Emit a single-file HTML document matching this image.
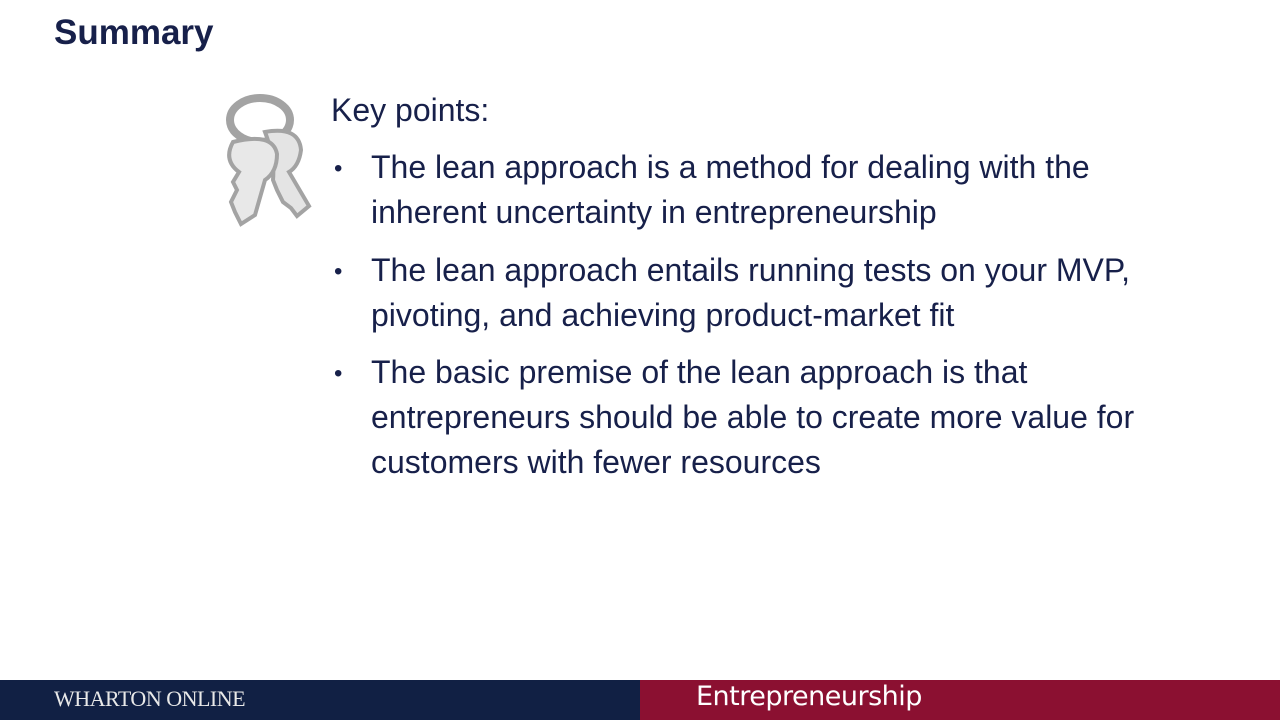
<!DOCTYPE html>
<html><head><meta charset="utf-8"><style>
body{margin:0;width:1280px;height:720px;position:relative;background:#fff;overflow:hidden;font-family:"Liberation Sans",Arial,sans-serif;color:#17204a}
.t{position:absolute;white-space:nowrap}
#title{left:54px;top:13px;font-size:35px;font-weight:bold;color:#17204a}
.b{font-size:32px;line-height:45px}
.dot{position:absolute;left:334px;font-size:24px}
#foot-l{position:absolute;left:0;top:680px;width:640px;height:40px;background:#112044}
#foot-r{position:absolute;left:640px;top:680px;width:640px;height:40px;background:#8b1031}
</style></head><body>
<div class="t" id="title">Summary</div>
<svg style="position:absolute;left:215px;top:90px" width="100" height="140">
<ellipse cx="45" cy="30" rx="30" ry="22" fill="none" stroke="#a3a3a3" stroke-width="8"/>
<path d="M50 42 Q84 36 86 60 Q84 76 74 82 L94 116 L82 126 L76 118 L68 112 L62 100 L58 90 Q60 68 50 42Z" fill="#e4e4e4" stroke="#a3a3a3" stroke-width="4"/>
<path d="M18 52 Q58 42 62 64 Q62 82 50 90 L40 125 L26 134 L20 122 L16 112 L22 100 L18 92 L24 82 Q8 70 18 52Z" fill="#e8e8e8" stroke="#a3a3a3" stroke-width="4"/>
</svg>
<div class="t b" style="left:331px;top:88px">Key points:</div>
<div class="t b dot" style="top:146px">•</div>
<div class="t b" style="left:371px;top:145px">The lean approach is a method for dealing with the<br>inherent uncertainty in entrepreneurship</div>
<div class="t b dot" style="top:249px">•</div>
<div class="t b" style="left:371px;top:248px">The lean approach entails running tests on your MVP,<br>pivoting, and achieving product-market fit</div>
<div class="t b dot" style="top:351px">•</div>
<div class="t b" style="left:371px;top:350px">The basic premise of the lean approach is that<br>entrepreneurs should be able to create more value for<br>customers with fewer resources</div>
<div id="foot-l"><div class="t" style="left:54px;top:6px;font-family:'Liberation Serif',serif;font-size:22px;color:#e8e8e8;letter-spacing:-0.5px">WHARTON ONLINE</div></div>
<div id="foot-r"><div class="t" style="left:56px;top:1px;font-family:'DejaVu Sans',sans-serif;font-size:27px;color:#fff;letter-spacing:-0.5px">Entrepreneurship</div></div>
</body></html>
